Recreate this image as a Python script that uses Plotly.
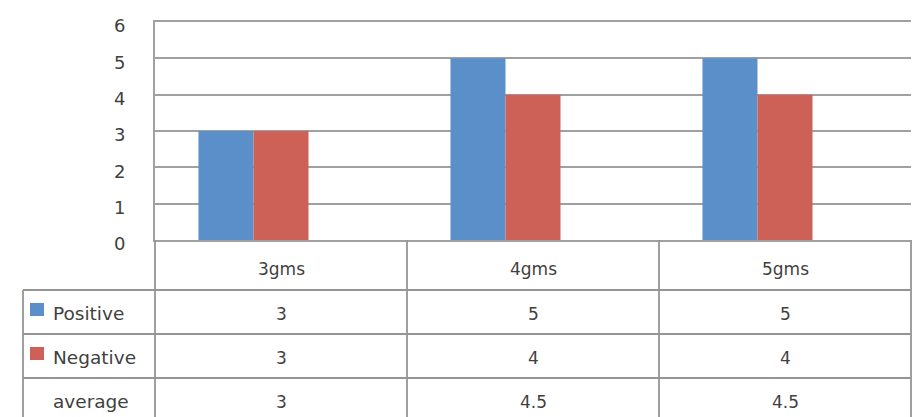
import plotly.graph_objects as go

categories = ["3gms", "4gms", "5gms"]
positive = [3, 5, 5]
negative = [3, 4, 4]
average = [3, 4.5, 4.5]
series_names = ["Positive", "Negative", "average"]
y_ticks = [0, 1, 2, 3, 4, 5, 6]

colors = ["#5b8fca", "#cd6158", "rgba(0,0,0,0)"]
series_values = [positive, negative, average]

W, H = 919, 417
ML, MR, MT, MB = 155, 8, 22, 177
plot_w = W - ML - MR
plot_h = H - MT - MB

def px_x(p):
    return (p - ML) / plot_w

def px_y(p):
    return (H - MB - p) / plot_h

FONT = "DejaVu Sans"
TXT = "#3f3f3f"
GRID = "#a0a0a0"
TLINE = "#959595"

fig = go.Figure()
for name, vals, c in zip(series_names, series_values, colors):
    fig.add_trace(go.Bar(x=categories, y=vals, name=name,
                         marker=dict(color=c, line=dict(width=0)),
                         showlegend=False, hoverinfo="skip" if name == "average" else None))

shapes = []
ann = []

header_top = H - MB
header_bot = 290
row_h = 44
row_tops = [header_bot + i * row_h for i in range(len(series_names))]
table_left = 23
n = len(categories)

for i in range(n + 1):
    xp = i / n
    shapes.append(dict(type="line", xref="paper", yref="paper", x0=xp, x1=xp,
                       y0=px_y(header_top), y1=px_y(H + 10), line=dict(color=TLINE, width=1.8)))
shapes.append(dict(type="line", xref="paper", yref="paper", x0=px_x(table_left), x1=px_x(table_left),
                   y0=px_y(header_bot), y1=px_y(H + 10), line=dict(color=TLINE, width=1.8)))
for r in range(len(series_names) + 1):
    yy = header_bot + r * row_h
    shapes.append(dict(type="line", xref="paper", yref="paper", x0=px_x(table_left), x1=1,
                       y0=px_y(yy), y1=px_y(yy), line=dict(color=TLINE, width=1.8)))

for c in categories:
    ann.append(dict(x=c, xref="x", y=px_y((header_top + header_bot) / 2 + 4), yref="paper",
                    text=c, showarrow=False, font=dict(family=FONT, size=17, color=TXT),
                    xanchor="center", yanchor="middle"))

for r, (name, vals, c) in enumerate(zip(series_names, series_values, colors)):
    yc = row_tops[r] + row_h / 2
    ann.append(dict(x=px_x(51), xref="paper", y=px_y(yc + 1), yref="paper", text=name,
                    showarrow=False, font=dict(family=FONT, size=18.5, color=TXT),
                    xanchor="left", yanchor="middle"))
    if name != "average":
        shapes.append(dict(type="rect", xref="paper", yref="paper", x0=px_x(30), x1=px_x(44),
                           y0=px_y(yc - 9), y1=px_y(yc + 4), fillcolor=c, line=dict(width=0)))
    for cat, v in zip(categories, vals):
        ann.append(dict(x=cat, xref="x", y=px_y(yc + 2), yref="paper", text=f"{v:g}",
                        showarrow=False, font=dict(family=FONT, size=17, color=TXT),
                        xanchor="center", yanchor="middle"))

fig.update_layout(
    width=W, height=H,
    margin=dict(l=ML, r=MR, t=MT, b=MB, pad=0),
    paper_bgcolor="white", plot_bgcolor="white",
    barmode="group", bargap=0.345, bargroupgap=0,
    shapes=shapes, annotations=ann,
    xaxis=dict(range=[-0.5, 2.5], showticklabels=False, showgrid=False, zeroline=False,
               showline=True, linecolor=GRID, linewidth=2, ticks="", mirror=True),
    yaxis=dict(range=[0, 6], tickvals=y_ticks, showgrid=True, gridcolor=GRID, gridwidth=2,
               zeroline=False, showline=True, linecolor=GRID, linewidth=2, ticks="",
               tickfont=dict(family=FONT, size=18, color=TXT), ticklabelstandoff=24,
               ticklabelshift=4),
)

fig.write_html("out.html")
